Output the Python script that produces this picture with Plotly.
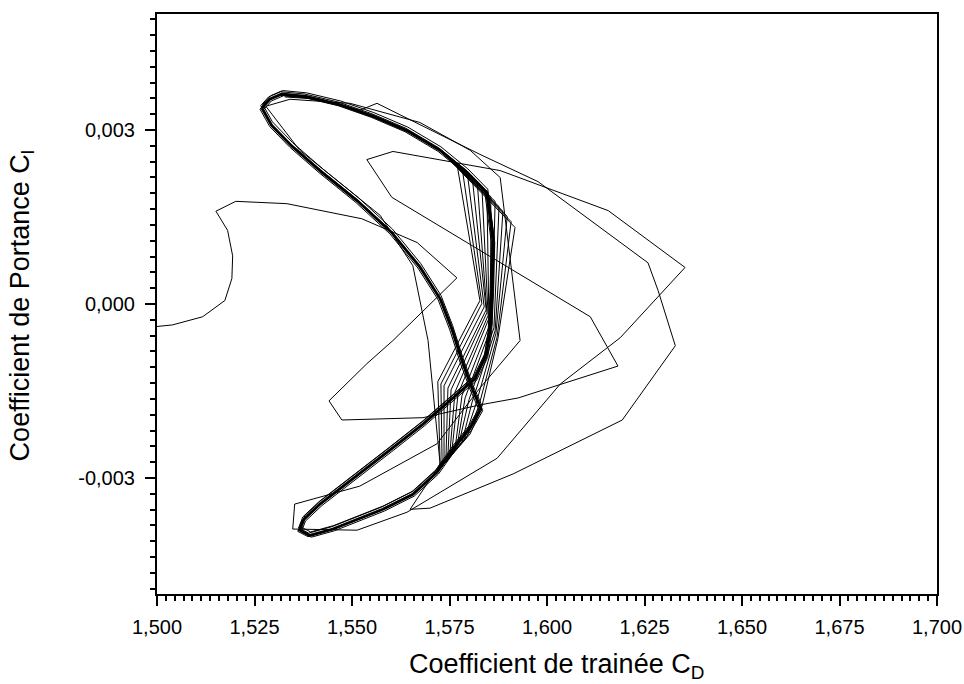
import plotly.graph_objects as go

# ---- data ----
# transient trajectory (Cd, Cl)
trans_x = [1.4997, 1.5040, 1.5117, 1.5174, 1.5192, 1.5194, 1.5181, 1.5151, 1.5202, 1.5333,
           1.5525, 1.5667, 1.5769, 1.5605, 1.5538, 1.5441, 1.5474, 1.5682, 1.5828, 1.5926,
           1.6182, 1.6111, 1.5602, 1.5538, 1.5605, 1.5880, 1.6157, 1.6354, 1.6188, 1.6034,
           1.5872, 1.5641, 1.5513, 1.5348, 1.5353, 1.5520, 1.5718, 1.5828, 1.5931, 1.5892,
           1.5880, 1.5803, 1.5674, 1.5495, 1.5341, 1.5279, 1.5366, 1.5572, 1.5656, 1.5695,
           1.5726, 1.5649, 1.5700, 1.5913, 1.6193, 1.6329, 1.6285, 1.6259, 1.5977, 1.5828,
           1.5564, 1.5520, 1.5418, 1.5328]
trans_y = [-0.00039, -0.00036, -0.00022, 0.00006, 0.00044, 0.00083, 0.00127, 0.00160, 0.00177, 0.00173,
           0.00147, 0.00106, 0.00045, -0.00063, -0.00103, -0.00167, -0.00200, -0.00196, -0.00174, -0.00162,
           -0.00107, -0.00022, 0.00184, 0.00249, 0.00263, 0.00230, 0.00161, 0.00063, -0.00058, -0.00138,
           -0.00266, -0.00359, -0.00390, -0.00388, -0.00345, -0.00314, -0.00241, -0.00145, -0.00063, 0.00153,
           0.00218, 0.00265, 0.00313, 0.00346, 0.00353, 0.00341, 0.00265, 0.00153, 0.00066, -0.00063,
           -0.00276, -0.00354, -0.00352, -0.00293, -0.00200, -0.00072, 0.00023, 0.00071, 0.00211, 0.00258,
           0.00346, 0.00334, 0.00353, 0.00357]

# established limit cycle (figure-eight crescent)
cycle_x = [1.5269, 1.5289, 1.5320, 1.5382, 1.5469, 1.5554, 1.5641, 1.5726, 1.5795, 1.5846,
           1.5862, 1.5859, 1.5854, 1.5844, 1.5815, 1.5751, 1.5682, 1.5597, 1.5500, 1.5418,
           1.5377, 1.5366, 1.5392, 1.5451, 1.5579, 1.5656, 1.5718, 1.5762, 1.5803, 1.5831,
           1.5808, 1.5782, 1.5756, 1.5726, 1.5674, 1.5602, 1.5515, 1.5423, 1.5346, 1.5294,
           1.5269]
cycle_y = [0.00338, 0.00353, 0.00362, 0.00358, 0.00344, 0.00324, 0.00299, 0.00265, 0.00227, 0.00192,
           0.00109, 0.00023, -0.00046, -0.00089, -0.00129, -0.00167, -0.00207, -0.00252, -0.00302, -0.00345,
           -0.00371, -0.00390, -0.00399, -0.00388, -0.00354, -0.00328, -0.00290, -0.00248, -0.00214, -0.00181,
           -0.00146, -0.00098, -0.00043, 0.00009, 0.00064, 0.00123, 0.00177, 0.00227, 0.00272, 0.00308,
           0.00338]

# repeated cycles drift slightly: offsets of the overlapping loops
loop_dx = [0.0, 0.0004, -0.0003, 0.0002, -0.0005]
loop_dy = [0.0, -0.00003, 0.00004, 0.00006, -0.00002]

# sampled vertices of successive cycles in the fast part of the orbit (fans)
fanA_x = [1.5769, 1.5782, 1.5795, 1.5808, 1.5821, 1.5833, 1.5846, 1.5856, 1.5867, 1.5877, 1.5887, 1.5898, 1.5908, 1.5918]
fanA_y = [0.00242, 0.00236, 0.00229, 0.00220, 0.00211, 0.00203, 0.00194, 0.00185, 0.00177, 0.00168, 0.00160, 0.00151, 0.00142, 0.00132]
fanB_x = [1.5828, 1.5833, 1.5839, 1.5844, 1.5846, 1.5849, 1.5851, 1.5856, 1.5859, 1.5864, 1.5867, 1.5869, 1.5872, 1.5874]
fanB_y = [0.00006, 0.00001, -0.00005, -0.00010, -0.00015, -0.00020, -0.00025, -0.00031, -0.00036, -0.00041, -0.00046, -0.00051, -0.00057, -0.00060]
fanC_x = [1.5720, 1.5728, 1.5736, 1.5746, 1.5754, 1.5764, 1.5772, 1.5782, 1.5790, 1.5800, 1.5808, 1.5818, 1.5826, 1.5833]
fanC_y = [-0.00134, -0.00138, -0.00141, -0.00145, -0.00148, -0.00152, -0.00155, -0.00158, -0.00162, -0.00165, -0.00169, -0.00172, -0.00174, -0.00177]
fanD_x = [1.5726, 1.5731, 1.5736, 1.5741, 1.5746, 1.5751, 1.5756, 1.5764, 1.5769, 1.5774, 1.5782, 1.5787, 1.5795, 1.5803]
fanD_y = [-0.00274, -0.00271, -0.00267, -0.00264, -0.00260, -0.00257, -0.00254, -0.00250, -0.00247, -0.00241, -0.00238, -0.00235, -0.00229, -0.00224]

x_ticks = [1.500, 1.525, 1.550, 1.575, 1.600, 1.625, 1.650, 1.675, 1.700]
x_ticktext = ["1,500", "1,525", "1,550", "1,575", "1,600", "1,625", "1,650", "1,675", "1,700"]
y_ticks = [-0.003, 0.0, 0.003]
y_ticktext = ["-0,003", "0,000", "0,003"]

x_title = "Coefficient de trainée C<sub>D</sub>"
y_title = "Coefficient de Portance C<sub>l</sub>"

# ---- figure ----
fig = go.Figure()
line_thin = dict(color="black", width=1)

fig.add_trace(go.Scatter(x=trans_x, y=trans_y, mode="lines", line=line_thin,
                         hoverinfo="skip", showlegend=False))

for k, (dx, dy) in enumerate(zip(loop_dx, loop_dy)):
    fig.add_trace(go.Scatter(x=[v + dx for v in cycle_x], y=[v + dy for v in cycle_y],
                             mode="lines", line=dict(color="black", width=2.8 if k == 0 else 1),
                             hoverinfo="skip", showlegend=False))

fx, fy = [], []
i_top, i_low = 7, 26  # cycle vertices before / after the fast part
for a, b, c, d, ay, by, cy, dy_ in zip(fanA_x, fanB_x, fanC_x, fanD_x, fanA_y, fanB_y, fanC_y, fanD_y):
    fx += [cycle_x[i_top], a, b, c, d, cycle_x[i_low], None]
    fy += [cycle_y[i_top], ay, by, cy, dy_, cycle_y[i_low], None]
fig.add_trace(go.Scatter(x=fx, y=fy, mode="lines", line=line_thin,
                         hoverinfo="skip", showlegend=False, connectgaps=False))

font_family = "Arial, Liberation Sans, sans-serif"
axis_common = dict(showline=True, linecolor="black", linewidth=2, mirror=True,
                   ticks="outside", ticklen=10, tickwidth=2, tickcolor="black",
                   showgrid=False, zeroline=False, automargin=False,
                   ticklabeloverflow="allow",
                   tickfont=dict(family=font_family, size=20, color="black"))

fig.update_layout(
    width=964, height=684,
    margin=dict(l=157, r=27, t=14, b=90, autoexpand=False),
    paper_bgcolor="white", plot_bgcolor="white",
    showlegend=False,
    xaxis=dict(range=[1.5, 1.7], tickmode="array", tickvals=x_ticks, ticktext=x_ticktext,
               ticklabelstandoff=4,
               minor=dict(ticks="outside", ticklen=5, tickwidth=1.5, tickcolor="black",
                          tick0=1.5, dtick=0.025 / 11, showgrid=False),
               **axis_common),
    yaxis=dict(range=[-0.005, 0.005], tickmode="array", tickvals=y_ticks, ticktext=y_ticktext,
               ticklabelstandoff=6,
               minor=dict(ticks="outside", ticklen=5, tickwidth=1.5, tickcolor="black",
                          tick0=0.0, dtick=0.003 / 11, showgrid=False),
               **axis_common),
    annotations=[
        dict(text=x_title, xref="paper", yref="paper", x=0.512, y=-0.124,
             xanchor="center", yanchor="middle", showarrow=False,
             font=dict(family=font_family, size=27, color="black")),
        dict(text=y_title, xref="paper", yref="paper", x=-0.173, y=0.496,
             xanchor="center", yanchor="middle", showarrow=False, textangle=-90,
             font=dict(family=font_family, size=27, color="black")),
    ],
)

# remove the default page margin so the 964x684 figure fills the window exactly
fig.write_html("out.html",
               config={"displayModeBar": False},
               post_script="document.body.style.margin='0px';document.body.style.overflow='hidden';")
